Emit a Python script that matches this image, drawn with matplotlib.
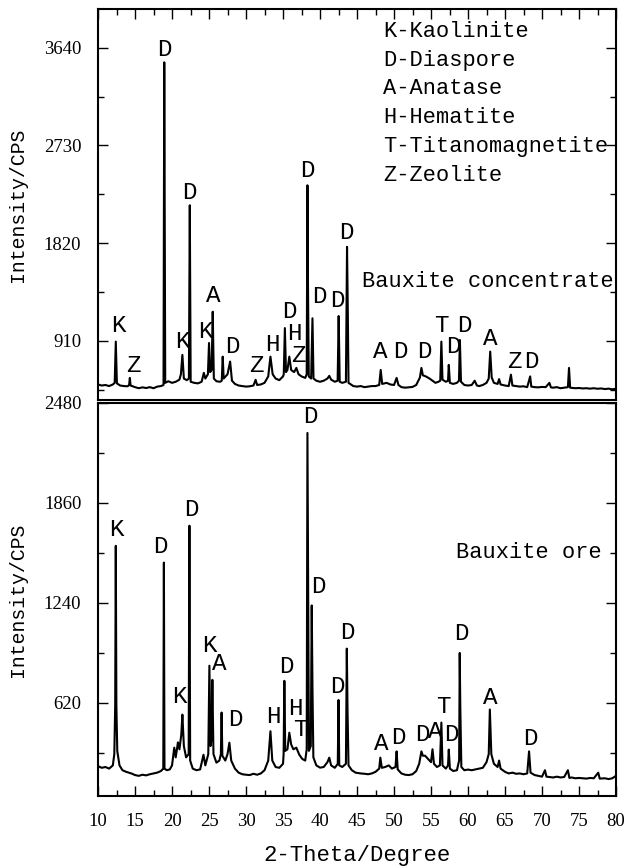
import matplotlib
matplotlib.use("Agg")
import matplotlib.pyplot as plt
from matplotlib.ticker import MultipleLocator

# ---------------- data ----------------
two_theta_conc = [
    10.0, 10.5, 11.0, 11.5, 12.0, 12.25, 12.4, 12.55, 13.0, 13.5, 14.0, 14.2, 14.3, 14.4,
    15.0, 15.5, 16.0, 16.5, 17.0, 17.5, 18.0, 18.5, 18.85, 18.95, 19.08, 19.5, 20.0, 20.5,
    21.0, 21.2, 21.4, 21.6, 22.0, 22.28, 22.4, 22.52, 23.0, 23.5, 24.0, 24.3, 24.5, 24.85,
    25.0, 25.15, 25.35, 25.5, 25.65, 26.0, 26.5, 26.72, 26.85, 26.98, 27.5, 27.85, 28.1,
    28.5, 29.0, 29.5, 30.0, 30.5, 31.0, 31.3, 31.5, 32.0, 32.5, 33.0, 33.3, 33.6, 34.0,
    34.5, 35.0, 35.1, 35.25, 35.4, 35.6, 35.85, 36.1, 36.5, 36.8, 37.1, 37.5, 38.0, 38.2,
    38.3, 38.38, 38.48, 38.8, 38.98, 39.12, 39.5, 40.0, 40.5, 41.0, 41.25, 41.5, 42.0,
    42.38, 42.52, 42.66, 43.0, 43.5, 43.65, 43.75, 43.85, 44.5, 45.0, 45.5, 46.0, 46.5,
    47.0, 47.5, 48.0, 48.2, 48.4, 49.0, 49.5, 50.0, 50.35, 50.6, 51.0, 51.5, 52.0, 52.5,
    53.0, 53.5, 53.7, 53.9, 54.3, 54.8, 55.2, 55.6, 56.0, 56.25, 56.4, 56.55, 57.0, 57.3,
    57.4, 57.55, 58.0, 58.5, 58.78, 58.9, 59.05, 59.5, 60.0, 60.5, 60.9, 61.2, 61.5, 62.0,
    62.5, 62.8, 63.0, 63.2, 63.5, 64.0, 64.2, 64.4, 65.0, 65.5, 65.8, 66.0, 66.5, 67.0,
    67.5, 68.0, 68.4, 68.55, 69.0, 69.5, 70.0, 70.5, 71.0, 71.2, 71.5, 72.0, 72.5, 73.0,
    73.5, 73.65, 73.8, 74.5, 75.0, 75.5, 76.0, 76.5, 77.0, 77.5, 78.0, 78.5, 79.0, 79.5, 80.0]
intensity_conc = [
    505, 495, 500, 490, 505, 520, 904, 515, 495, 490, 488, 500, 566, 495,
    480, 470, 478, 472, 480, 470, 485, 490, 500, 3504, 520, 535, 520, 530,
    550, 600, 780, 560, 545, 560, 2173, 530, 520, 515, 530, 613, 560, 600,
    891, 620, 640, 1182, 560, 535, 530, 540, 764, 560, 600, 718, 540,
    510, 495, 490, 485, 488, 495, 548, 500, 505, 520, 580, 764, 600, 560,
    545, 580, 600, 1030, 620, 640, 764, 640, 620, 659, 600, 580, 566, 600,
    2359, 1384, 580, 560, 1121, 560, 540, 530, 540, 560, 585, 550, 530,
    540, 1142, 530, 520, 530, 1786, 1216, 520, 490, 485, 490, 480, 485,
    490, 490, 500, 640, 510, 520, 505, 500, 566, 500, 480, 475, 478, 482,
    500, 570, 659, 590, 580, 560, 540, 520, 530, 540, 904, 550, 530, 540,
    687, 520, 510, 520, 540, 919, 530, 500, 495, 500, 540, 495, 490, 500,
    520, 560, 811, 570, 520, 510, 555, 505, 495, 490, 596, 495, 490, 485,
    488, 480, 580, 485, 480, 478, 482, 480, 520, 478, 475, 480, 470, 475,
    480, 659, 475, 470, 472, 468, 470, 466, 470, 465, 468, 462, 466, 460, 465]

two_theta_ore = [
    10.0, 10.5, 11.0, 11.5, 12.0, 12.2, 12.32, 12.4, 12.48, 12.6, 12.9, 13.3, 13.8, 14.0,
    14.5, 15.0, 15.5, 16.0, 16.5, 17.0, 17.5, 18.0, 18.5, 18.82, 18.9, 18.98, 19.3, 19.7,
    20.0, 20.3, 20.5, 20.8, 21.0, 21.25, 21.4, 21.6, 21.9, 22.25, 22.35, 22.45, 22.8, 23.3,
    23.8, 24.25, 24.5, 24.9, 25.05, 25.2, 25.35, 25.45, 25.6, 26.0, 26.4, 26.6, 26.7, 26.8,
    27.2, 27.5, 27.75, 28.0, 28.5, 29.0, 29.5, 30.0, 30.5, 31.0, 31.5, 32.0, 32.5, 33.0,
    33.3, 33.55, 34.0, 34.5, 35.0, 35.08, 35.18, 35.3, 35.6, 35.85, 36.1, 36.4, 36.8, 37.2,
    37.6, 38.0, 38.2, 38.3, 38.4, 38.5, 38.75, 38.88, 38.98, 39.1, 39.5, 40.0, 40.5, 41.0,
    41.25, 41.5, 42.0, 42.4, 42.5, 42.6, 43.0, 43.5, 43.62, 43.72, 43.85, 44.3, 44.8, 45.5,
    46.0, 46.5, 47.0, 47.5, 48.0, 48.15, 48.35, 48.8, 49.3, 49.7, 50.2, 50.35, 50.5, 51.0,
    51.5, 52.0, 52.5, 53.0, 53.4, 53.7, 53.9, 54.2, 54.6, 55.0, 55.2, 55.4, 55.8, 56.2,
    56.4, 56.55, 57.0, 57.3, 57.4, 57.55, 58.0, 58.5, 58.8, 58.88, 58.96, 59.1, 59.5, 60.0,
    60.5, 61.0, 61.5, 62.0, 62.5, 62.8, 62.95, 63.15, 63.5, 64.0, 64.2, 64.4, 65.0, 65.5,
    66.0, 66.5, 67.0, 67.5, 68.0, 68.25, 68.45, 69.0, 69.5, 70.0, 70.4, 70.6, 71.0, 71.5,
    72.0, 72.5, 73.0, 73.5, 73.7, 74.0, 74.5, 75.0, 75.5, 76.0, 76.5, 77.0, 77.6, 77.8,
    78.5, 79.0, 79.5, 80.0]
intensity_ore = [
    225, 215, 220, 210, 230, 300, 600, 1593, 600, 320, 230, 200, 190, 187,
    180, 170, 165, 172, 168, 175, 180, 185, 195, 210, 1489, 210, 200, 205,
    230, 340, 280, 373, 330, 420, 545, 350, 280, 300, 1718, 260, 210, 200,
    205, 296, 230, 300, 849, 350, 400, 761, 300, 247, 260, 300, 558, 290,
    260, 300, 371, 260, 210, 185, 175, 172, 170, 178, 172, 180, 200, 260,
    442, 260, 220, 215, 240, 300, 755, 320, 330, 433, 360, 330, 340, 296,
    270, 260, 330, 2294, 1281, 320, 350, 1223, 707, 280, 230, 216, 220, 250,
    278, 230, 215, 240, 636, 230, 220, 240, 955, 566, 230, 200, 185, 180,
    178, 175, 180, 190, 210, 278, 215, 220, 230, 210, 220, 317, 205, 180,
    172, 170, 175, 195, 240, 317, 290, 290, 270, 250, 330, 240, 220, 230,
    496, 230, 210, 230, 328, 210, 195, 200, 260, 928, 586, 220, 200, 204,
    200, 205, 210, 215, 250, 300, 577, 300, 240, 220, 260, 210, 190, 180,
    185, 178, 180, 175, 180, 317, 185, 170, 165, 160, 200, 160, 158, 155,
    160, 155, 158, 200, 152, 155, 150, 152, 150, 148, 152, 150, 185, 148,
    150, 145, 150, 165]

# phase labels: letter, 2-theta, intensity at the letter's base
conc_letters = ["K", "Z", "D", "K", "D", "K", "A", "D", "Z", "H", "D", "H", "Z", "D", "D",
                "D", "D", "A", "D", "D", "T", "D", "D", "A", "Z", "D"]
conc_lab_x = [12.75, 14.8, 18.93, 21.44, 22.4, 24.46, 25.58, 28.19, 31.35, 33.6, 35.81,
              36.6, 37.07, 38.33, 39.86, 42.34, 43.6, 48.2, 50.9, 54.1, 56.43, 58.0,
              59.46, 62.97, 66.2, 68.6]
conc_lab_y = [950, 579, 3519, 796, 2189, 889, 1229, 749, 579, 771, 1074, 873, 671, 2389,
              1214, 1182, 1817, 703, 703, 703, 944, 749, 944, 826, 610, 610]

ore_letters = ["K", "D", "K", "D", "K", "A", "D", "H", "D", "H", "T", "D", "D", "D", "D",
               "A", "D", "D", "A", "T", "D", "D", "A", "D"]
ore_lab_x = [12.52, 18.47, 20.99, 22.66, 25.0, 26.4, 28.6, 33.68, 35.49, 36.62, 37.38,
             38.64, 39.81, 42.34, 43.69, 48.34, 50.59, 53.8, 55.6, 56.66, 57.79, 59.14,
             63.07, 68.38]
ore_lab_y = [1624, 1520, 587, 1748, 900, 794, 442, 463, 774, 514, 380, 2322, 1271, 649,
             981, 297, 332, 348, 369, 525, 353, 975, 581, 328]

legend_lines = ["K-Kaolinite", "D-Diaspore", "A-Anatase", "H-Hematite",
                "T-Titanomagnetite", "Z-Zeolite"]

x_ticks = list(range(10, 81, 5))
conc_yticks = [910, 1820, 2730, 3640]
ore_yticks = [620, 1240, 1860, 2480]

# ---------------- drawing ----------------
MONO = ["Liberation Mono", "DejaVu Sans Mono"]
SERIF = ["Liberation Serif", "DejaVu Serif"]

fig = plt.figure(figsize=(6.28, 8.67), dpi=100)
ax1 = fig.add_axes([0.1561, 0.5386, 0.8248, 0.4510])
ax2 = fig.add_axes([0.1561, 0.0819, 0.8248, 0.4533])

def style(ax, ylim, yticks, yminor, show_bottom):
    ax.set_xlim(10, 80)
    ax.set_ylim(*ylim)
    ax.set_xticks(x_ticks)
    ax.xaxis.set_minor_locator(MultipleLocator(2.5))
    ax.set_yticks(yticks)
    ax.yaxis.set_minor_locator(MultipleLocator(yminor))
    for sp in ax.spines.values():
        sp.set_linewidth(1.5)
    ax.tick_params(which="both", direction="in", left=True, right=True,
                   top=not show_bottom, bottom=show_bottom, width=1.0)
    ax.tick_params(which="major", length=7.5)
    ax.tick_params(which="minor", length=4)
    ax.tick_params(axis="y", pad=12)
    ax.tick_params(axis="x", pad=12, labelbottom=show_bottom)
    for lab in ax.get_yticklabels() + ax.get_xticklabels():
        lab.set_fontfamily(SERIF)
        lab.set_fontsize(13.5)
    ax.set_ylabel("Intensity/CPS", family=MONO, fontsize=14.3)
    ax.yaxis.set_label_coords(-0.138, 0.5)

ax1.plot(two_theta_conc, intensity_conc, color="black", lw=1.5)
ax2.plot(two_theta_ore, intensity_ore, color="black", lw=1.5)

style(ax1, (360, 4000), conc_yticks, 455, False)
style(ax2, (40, 2480), ore_yticks, 310, True)

for t, x, y in zip(conc_letters, conc_lab_x, conc_lab_y):
    ax1.text(x, y, t, ha="center", va="bottom", family=MONO, fontsize=17.5)
for t, x, y in zip(ore_letters, ore_lab_x, ore_lab_y):
    ax2.text(x, y, t, ha="center", va="bottom", family=MONO, fontsize=17.5)

for i, line in enumerate(legend_lines):
    ax1.text(0.55, 0.943 - 0.0737 * i, line, transform=ax1.transAxes,
             ha="left", va="center", family=MONO, fontsize=15.8)

ax1.text(0.509, 0.302, "Bauxite concentrate", transform=ax1.transAxes,
         ha="left", va="center", family=MONO, fontsize=15.8)
ax2.text(0.692, 0.620, "Bauxite ore", transform=ax2.transAxes,
         ha="left", va="center", family=MONO, fontsize=15.8)

ax2.set_xlabel("2-Theta/Degree", family=MONO, fontsize=16, labelpad=11)

fig.savefig("out.png", dpi=100)
